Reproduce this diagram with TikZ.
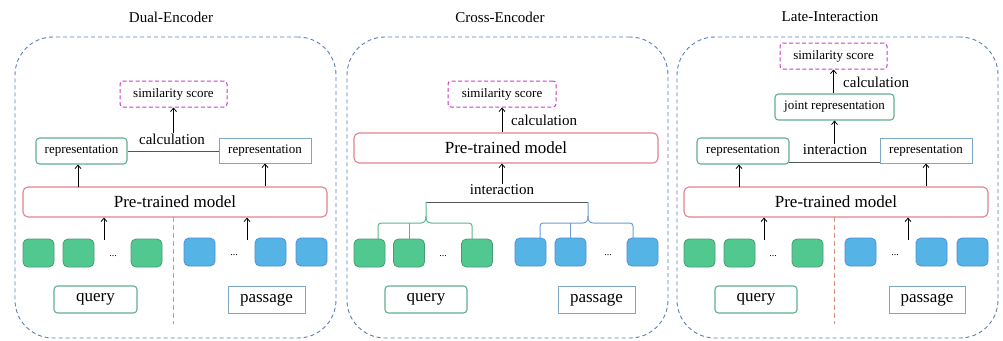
\documentclass[tikz,border=0pt]{standalone}
\usepackage{fontspec}
\setmainfont{Liberation Serif}
\usetikzlibrary{arrows.meta}
\definecolor{outerblue}{HTML}{5B7FB8}
\definecolor{greenbd}{HTML}{5FAF8C}
\definecolor{bluebd}{HTML}{7DA8C4}
\definecolor{pinkbd}{HTML}{E0828E}
\definecolor{magbd}{HTML}{C53FC5}
\definecolor{gfill}{HTML}{52C891}
\definecolor{gfbd}{HTML}{4B9B72}
\definecolor{bfill}{HTML}{56B3E5}
\definecolor{bfbd}{HTML}{4D8FD6}
\definecolor{gbrace}{HTML}{5CB58E}
\definecolor{bbrace}{HTML}{6B9BD8}
\definecolor{divcol}{HTML}{E09080}
\definecolor{barcol}{HTML}{555555}
\tikzset{
  fs13/.style={font=\fontsize{13}{15}\selectfont},
  fs15/.style={font=\fontsize{15}{17}\selectfont},
  fs17/.style={font=\fontsize{17}{19}\selectfont},
  title/.style={fs15, inner sep=0pt},
  lbl/.style={fs15, inner sep=1pt},
  outerbox/.style={draw=outerblue, dashed, dash pattern=on 4pt off 3pt, line width=0.9pt, rounded corners=38pt, inner sep=0pt},
  simbox/.style={draw=magbd, dashed, dash pattern=on 4pt off 2.5pt, line width=1pt, rounded corners=3pt, fs13, inner sep=0pt, minimum height=26pt},
  grep/.style={draw=greenbd, line width=1.1pt, rounded corners=3.5pt, fs13, inner sep=0pt, minimum height=26pt},
  brep/.style={draw=bluebd, line width=1pt, fs13, inner sep=0pt, minimum height=25pt},
  model/.style={draw=pinkbd, line width=1.1pt, rounded corners=5pt, fs17, inner sep=0pt, minimum width=304pt, minimum height=30pt},
  gsq/.style={draw=gfbd, fill=gfill, line width=0.8pt, rounded corners=5pt, minimum width=31pt, minimum height=28pt, inner sep=0pt},
  bsq/.style={draw=bfbd, fill=bfill, line width=0.8pt, rounded corners=5pt, minimum width=31pt, minimum height=28pt, inner sep=0pt},
  dots/.style={font=\fontsize{10}{12}\selectfont, inner sep=0pt},
  qbox/.style={draw=greenbd, line width=1.1pt, rounded corners=3.5pt, fs17, inner sep=0pt, minimum height=27pt},
  pbox/.style={draw=bluebd, line width=1pt, fs17, inner sep=0pt, minimum height=27pt},
  arr/.style={-{Straight Barb[length=3.5pt,width=6pt]}, line width=0.8pt},
  conn/.style={line width=1pt, barcol},
  divider/.style={draw=divcol, dashed, dash pattern=on 5pt off 3pt, line width=0.9pt},
}
\begin{document}
\begin{tikzpicture}[x=1pt,y=-1pt]
\useasboundingbox (0,0) rectangle (1003,340);

% ================= Panel 1: Dual-Encoder =================
\node[title] (t1) at (171,17) {Dual-Encoder};
\node[outerbox, minimum width=321pt, minimum height=301pt] (o1) at (175.5,187.5) {};
\node[simbox, minimum width=107pt] (s1) at (173.5,94) {similarity score};
\node[grep, minimum width=91pt] (r1L) at (81.5,151) {representation};
\node[brep, minimum width=92pt] (r1R) at (265,150.5) {representation};
\draw[conn] (r1L.east) -- (r1L.east -| r1R.west);
\node[lbl] (c1) at (172,139) {calculation};
\draw[arr] (c1.north -| s1.south) -- (s1.south);
\node[model] (m1) at (175,202) {Pre-trained model};
\coordinate (u1L) at (78,187);
\draw[arr] (u1L) -- (u1L |- r1L.south);
\draw[arr] (r1R.south |- m1.north) -- (r1R.south);
\node[gsq] (g11) at (38.5,253) {};
\node[gsq] (g12) at (78.5,253) {};
\node[dots] (gd1) at (113,256) {...};
\node[gsq] (g13) at (146.5,253) {};
\node[bsq] (b11) at (199.5,252) {};
\node[dots] (bd1) at (234,255) {...};
\node[bsq] (b12) at (270.5,252) {};
\node[bsq] (b13) at (311.5,252) {};
\coordinate (a1L) at (104,240);
\coordinate (a1R) at (247,240);
\draw[arr] (a1L) -- (a1L |- m1.south);
\draw[arr] (a1R) -- (a1R |- m1.south);
\coordinate (d1a) at (173,217);
\coordinate (d1b) at (173,324);
\draw[divider] (d1a) -- (d1b);
\node[qbox, minimum width=83pt] (q1) at (95.5,299.5) {query};
\node[pbox, minimum width=77pt] (p1) at (266.5,299.5) {passage};

% ================= Panel 2: Cross-Encoder =================
\node[title] (t2) at (500,17) {Cross-Encoder};
\node[outerbox, minimum width=321pt, minimum height=301pt] (o2) at (507.5,187.5) {};
\node[simbox, minimum width=108pt] (s2) at (502,94) {similarity score};
\node[model] (m2) at (506,148) {Pre-trained model};
\draw[arr] (s2.south |- m2.north) -- (s2.south);
\node[lbl, anchor=west] (c2) at (510,120) {calculation};
\node[lbl] (i2) at (502,190) {interaction};
\draw[arr] (i2.north -| s2.south) -- (s2.south |- m2.south);
\coordinate (barL) at (426,202);
\coordinate (barR) at (588,202);
\draw[conn] (barL) -- (barR);
\node[gsq] (g21) at (369.5,253) {};
\node[gsq] (g22) at (409,253) {};
\node[dots] (gd2) at (443,256) {...};
\node[gsq] (g23) at (477,253) {};
\node[bsq] (b21) at (530.5,252) {};
\node[bsq] (b22) at (570.5,252) {};
\node[dots] (bd2) at (608,255) {...};
\node[bsq] (b23) at (642.5,252) {};
% green brace
\draw[gbrace, line width=1pt, rounded corners=3pt]
  (378,239) -- (378,223) -- (421,223);
\draw[gbrace, line width=1pt]
  (421,223) .. controls (425,223) and (426,220) .. (426,216) -- (barL);
\draw[gbrace, line width=1pt]
  (426,216) .. controls (426,220) and (427,223) .. (431,223);
\draw[gbrace, line width=1pt, rounded corners=3pt]
  (431,223) -- (472,223) -- (472,239);
\draw[gbrace, line width=1pt] (g22.north |- 0,223) -- (g22.north);
% blue brace
\draw[bbrace, line width=1pt, rounded corners=3pt]
  (540,238) -- (540,223) -- (583,223);
\draw[bbrace, line width=1pt]
  (583,223) .. controls (587,223) and (588,220) .. (588,216) -- (barR);
\draw[bbrace, line width=1pt]
  (588,216) .. controls (588,220) and (589,223) .. (593,223);
\draw[bbrace, line width=1pt, rounded corners=3pt]
  (593,223) -- (633,223) -- (633,238);
\draw[bbrace, line width=1pt] (b22.north |- 0,223) -- (b22.north);
\node[qbox, minimum width=82pt] (q2) at (426,299.5) {query};
\node[pbox, minimum width=77pt] (p2) at (596.5,299.5) {passage};

% ================= Panel 3: Late-Interaction =================
\node[title] (t3) at (830,17) {Late-Interaction};
\node[outerbox, minimum width=321pt, minimum height=301pt] (o3) at (837.5,187.5) {};
\node[simbox, minimum width=107pt] (s3) at (833.5,56) {similarity score};
\node[grep, minimum width=119pt] (jr) at (834.5,107) {joint representation};
\draw[arr] (jr.north -| s3.south) -- (s3.south);
\node[lbl, anchor=west] (c3) at (842,82) {calculation};
\node[grep, minimum width=92pt] (r3L) at (743,151) {representation};
\node[brep, minimum width=92pt] (r3R) at (926,150.5) {representation};
\coordinate (l3a) at (789,162);
\draw[conn] (l3a) -- (l3a -| r3R.west);
\node[lbl] (i3) at (835,150) {interaction};
\draw[arr] (i3.north -| jr.south) -- (jr.south);
\node[model] (m3) at (836,202) {Pre-trained model};
\coordinate (u3L) at (739,187);
\draw[arr] (u3L) -- (u3L |- r3L.south);
\draw[arr] (r3R.south |- m3.north) -- (r3R.south);
\node[gsq] (g31) at (699.5,253) {};
\node[gsq] (g32) at (739.5,253) {};
\node[dots] (gd3) at (773,256) {...};
\node[gsq] (g33) at (807.5,253) {};
\node[bsq] (b31) at (860.5,252) {};
\node[dots] (bd3) at (895,255) {...};
\node[bsq] (b32) at (931.5,252) {};
\node[bsq] (b33) at (972.5,252) {};
\coordinate (a3L) at (764,240);
\coordinate (a3R) at (908,240);
\draw[arr] (a3L) -- (a3L |- m3.south);
\draw[arr] (a3R) -- (a3R |- m3.south);
\coordinate (d3a) at (834,217);
\coordinate (d3b) at (834,324);
\draw[divider] (d3a) -- (d3b);
\node[qbox, minimum width=82pt] (q3) at (756,299.5) {query};
\node[pbox, minimum width=76pt] (p3) at (927,299.5) {passage};
\end{tikzpicture}
\end{document}
